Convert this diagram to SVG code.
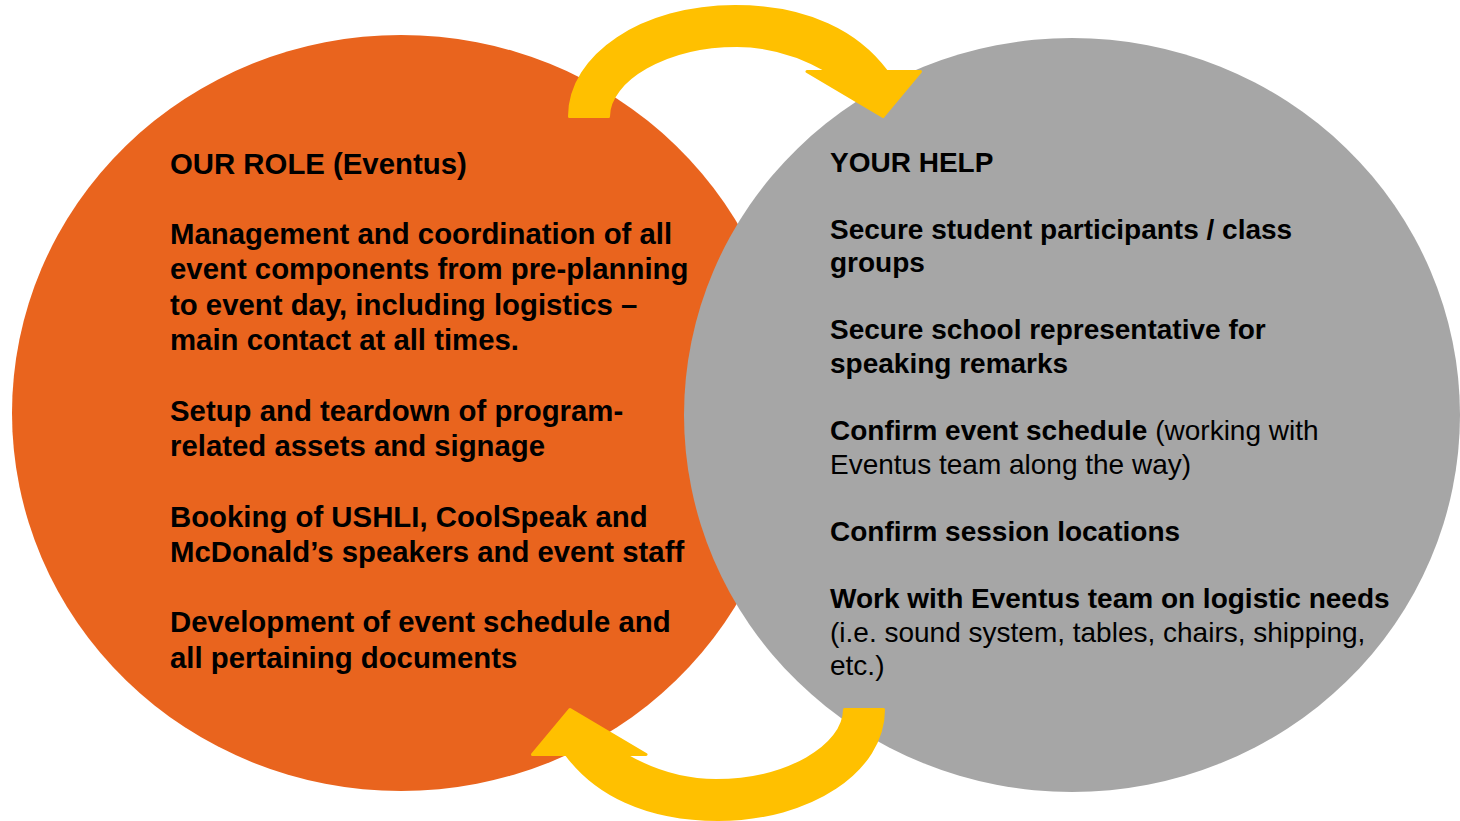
<svg xmlns="http://www.w3.org/2000/svg" width="1460" height="821" viewBox="0 0 1460 821">
  <style>
    .b { font-family: "Liberation Sans", Arial, sans-serif; font-weight: bold; fill: #000; }
    .l { font-size: 29.35px; }
    .r { font-size: 28px; }
    .n { font-weight: normal; }
    .arrow { fill: #FFC000; stroke: #FFC000; stroke-width: 3; stroke-linejoin: round; }
  </style>
  <defs>
    <path id="arc" d="M 569.5,116.5 C 569.5,55 643,6.5 735,6.5 C 808,6.5 858,33 886.5,71.5 L 920.5,71.5 L 883,116.5 L 807,71.5 L 828.5,71.5 C 802,56 772,45.5 737,45.5 C 666,45.5 608.5,80 608.5,116.5 Z"/>
  </defs>
  <g id="our-role">
    <ellipse cx="401" cy="413" rx="389" ry="378" fill="#E9641E"/>
  </g>
  <g id="your-help">
    <ellipse cx="1072" cy="415" rx="388" ry="377" fill="#A6A6A6"/>
  </g>
  <g id="connectors">
    <use href="#arc" class="arrow"/>
    <use href="#arc" class="arrow" transform="rotate(180 726.5 413)"/>
  </g>
  <g id="our-role-text" class="b l">
    <text x="170" y="174">OUR ROLE (Eventus)</text>
    <text x="170" y="243.5">Management and coordination of all</text>
    <text x="170" y="279">event components from pre-planning</text>
    <text x="170" y="314.5">to event day, including logistics –</text>
    <text x="170" y="349.5">main contact at all times.</text>
    <text x="170" y="420.5">Setup and teardown of program-</text>
    <text x="170" y="455.5">related assets and signage</text>
    <text x="170" y="526.5">Booking of USHLI, CoolSpeak and</text>
    <text x="170" y="561.5">McDonald’s speakers and event staff</text>
    <text x="170" y="632">Development of event schedule and</text>
    <text x="170" y="667.5">all pertaining documents</text>
  </g>
  <g id="your-help-text" class="b r">
    <text x="830" y="171.5">YOUR HELP</text>
    <text x="830" y="238.5">Secure student participants / class</text>
    <text x="830" y="272">groups</text>
    <text x="830" y="339">Secure school representative for</text>
    <text x="830" y="372.5">speaking remarks</text>
    <text x="830" y="440">Confirm event schedule <tspan class="n">(working with</tspan></text>
    <text x="830" y="473.5" class="n">Eventus team along the way)</text>
    <text x="830" y="541">Confirm session locations</text>
    <text x="830" y="608">Work with Eventus team on logistic needs</text>
    <text x="830" y="641.5" class="n">(i.e. sound system, tables, chairs, shipping,</text>
    <text x="830" y="675" class="n">etc.)</text>
  </g>
</svg>
